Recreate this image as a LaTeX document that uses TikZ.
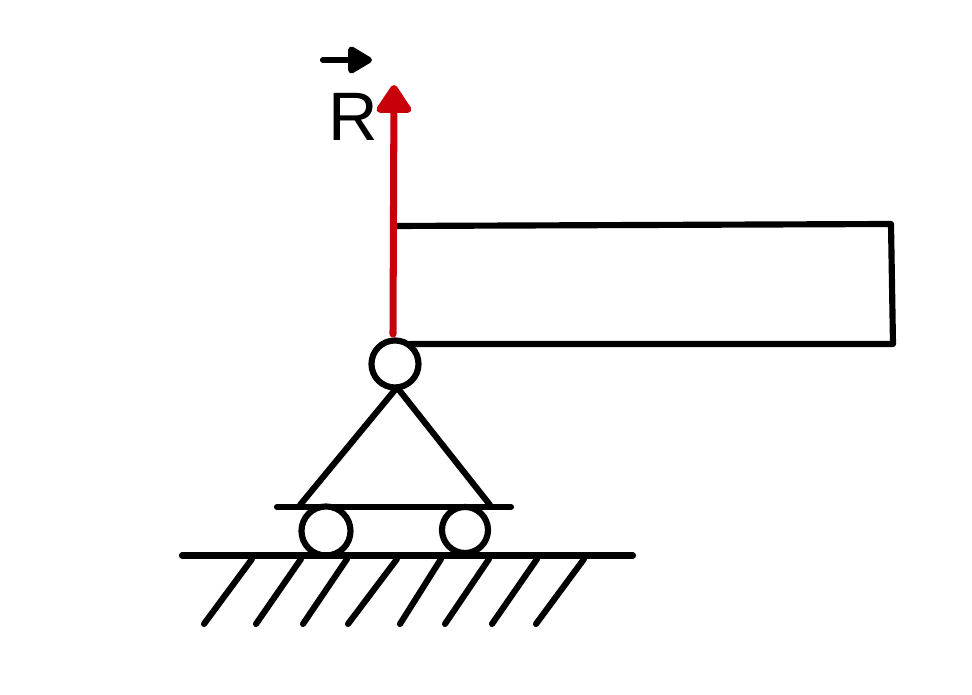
\documentclass[tikz,border=0pt]{standalone}
\usepackage{fontspec}
\setmainfont{Liberation Sans}
\usepackage{tikz}
\usetikzlibrary{arrows.meta}
\tikzset{ln/.style = {line width = 1.75pt, line cap = round, line join = round}}
\tikzset{pin/.style = {draw, ln, fill = white, circle, inner sep = 0, outer sep = 0}}
\definecolor{mred}{rgb}{0.78, 0.0, 0.04}

\begin{document}
\begin{tikzpicture}[x=0.01cm, y=-0.01cm]
      \useasboundingbox (0, 0) rectangle (972, 695);

      % beam
      \coordinate (beamtl) at (396, 226);
      \coordinate (beamtr) at (891, 224);
      \coordinate (beambr) at (893, 344);
      \coordinate (beambl) at (410, 344);
      \draw [ln] (beamtl) -- (beamtr) -- (beambr) -- (beambl);

      % cart
      \node [pin, minimum size = 0.47cm] (hinge) at (395, 364) {};
      \coordinate (legl) at (300, 505);
      \coordinate (legr) at (490, 505);
      \coordinate (deckl) at (277, 507);
      \coordinate (deckr) at (511, 507);
      \draw [ln] (hinge.-85) -- (legl);
      \draw [ln] (hinge.-85) -- (legr);
      \draw [ln] (deckl) -- (deckr);
      \node [pin, minimum size = 0.49cm] (wheell) at (326, 531) {};
      \node [pin, minimum size = 0.46cm] (wheelr) at (465, 530) {};

      % ground
      \coordinate (groundl) at (182, 555.5);
      \coordinate (groundr) at (633, 555.5);
      \draw [ln] (groundl) -- (groundr);
      \foreach \xa/\xb in {204/252, 256/301, 303/347, 348/397, 400/441, 445/489, 492/537, 536/584}
        \draw [ln] (\xa, 624) -- (\xb, 559);

      % reaction
      \coordinate (reacs) at (393, 334);
      \coordinate (reace) at (394, 85);
      \draw [ln, mred, line width = 2pt, -{Triangle[round, length=0.31cm, width=0.39cm]}] (reacs) -- (reace);

      \node [font=\fontsize{19.5}{19.5}\selectfont, inner sep = 0] (rlabel) at (353, 117) {R};
      \coordinate (vecs) at (323, 60);
      \coordinate (vece) at (372, 60);
      \draw [ln, -{Triangle[round, length=0.27cm, width=0.3cm]}] (vecs) -- (vece);
    \end{tikzpicture}
\end{document}
